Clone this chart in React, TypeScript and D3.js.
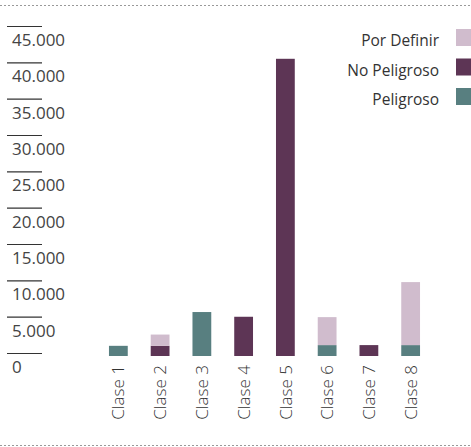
import React from 'react';
import * as d3 from 'd3';

const clases = ['Clase 1', 'Clase 2', 'Clase 3', 'Clase 4', 'Clase 5', 'Clase 6', 'Clase 7', 'Clase 8'];
const peligroso = [1400, 0, 6050, 0, 0, 1500, 0, 1500];
const noPeligroso = [0, 1400, 0, 5400, 40900, 0, 1500, 0];
const porDefinir = [0, 1550, 0, 0, 0, 3850, 0, 8670];
const yTicks = [0, 5000, 10000, 15000, 20000, 25000, 30000, 35000, 40000, 45000];

const keys = ['Peligroso', 'No Peligroso', 'Por Definir'];
const colors = { 'Peligroso': '#587f80', 'No Peligroso': '#5d3555', 'Por Definir': '#d0bccd' };
const legendOrder = ['Por Definir', 'No Peligroso', 'Peligroso'];

const font = '"Open Sans", sans-serif';

export default function App() {
  const width = 471;
  const height = 447;

  const rows = clases.map((c, i) => ({
    clase: c,
    'Peligroso': peligroso[i],
    'No Peligroso': noPeligroso[i],
    'Por Definir': porDefinir[i],
  }));
  const series = d3.stack().keys(keys)(rows as any);

  const x = d3.scaleBand().domain(clases).range([86, 443]).padding(0.55);
  const y = d3.scaleLinear().domain([0, 45000]).range([356, 29]);
  const fmt = (v: number) => (v === 0 ? '0' : d3.format(',')(v).replace(/,/g, '.'));

  return (
    <svg width={width} height={height} style={{ position: 'absolute', left: 0, top: 0 }}>
      <line x1={0} x2={width} y1={5.5} y2={5.5} stroke="#999" strokeDasharray="2,2" />
      <line x1={0} x2={width} y1={445.5} y2={445.5} stroke="#999" strokeDasharray="2,2" />

      {yTicks.map(t => (
        <g key={t}>
          <line x1={7} x2={42} y1={y(t) - 2.5} y2={y(t) - 2.5} stroke="#333" strokeWidth={1.2} />
          <text x={12} y={y(t) + 17} fontFamily={font} fontSize={17} fill="#444">{fmt(t)}</text>
        </g>
      ))}

      {series.map(s => (
        <g key={s.key} fill={(colors as any)[s.key]}>
          {s.map((d, i) => (d[1] - d[0] > 0 ? (
            <rect key={i} x={x(clases[i])} width={x.bandwidth()} y={y(d[1])} height={y(d[0]) - y(d[1])} />
          ) : null))}
        </g>
      ))}

      {clases.map(c => {
        const cx = (x(c) as number) + x.bandwidth() / 2;
        return (
          <text key={c} transform={`translate(${cx},365) rotate(-90)`} textAnchor="end" dy="0.36em"
            fontFamily={font} fontWeight={300} fontSize={17} fill="#333">{c}</text>
        );
      })}

      {legendOrder.map((k, i) => (
        <g key={k} transform={`translate(0,${29 + i * 29.5})`}>
          <text x={439} y={17} textAnchor="end" fontFamily={font} fontSize={15.5} fill="#333">{k}</text>
          <rect x={456} y={0} width={15} height={17} fill={(colors as any)[k]} />
        </g>
      ))}
    </svg>
  );
}
